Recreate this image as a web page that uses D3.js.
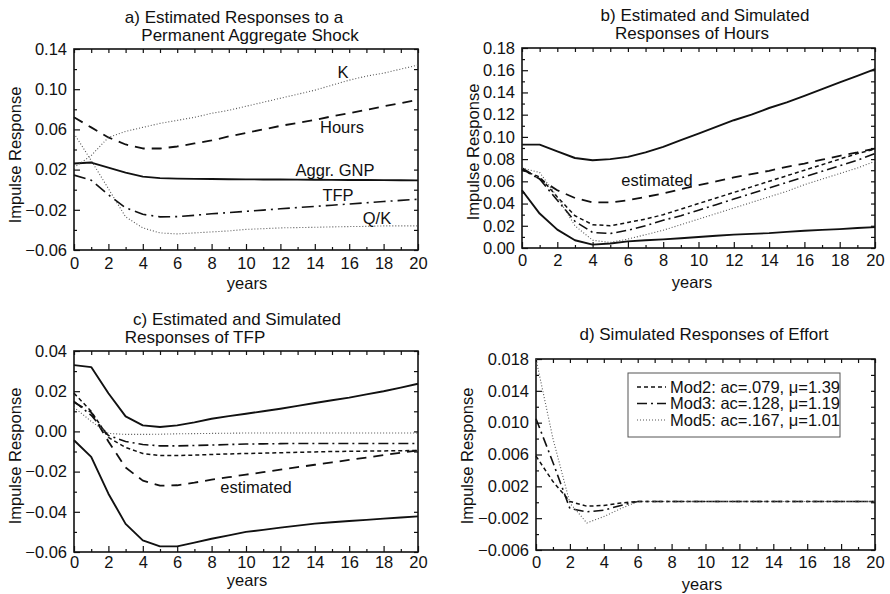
<!DOCTYPE html>
<html>
<head>
<meta charset="utf-8">
<script src="https://cdn.jsdelivr.net/npm/d3@7"></script>
<style>
  body { margin: 0; background: #fff; }
  text { font-family: "Liberation Sans", Arial, Helvetica, sans-serif; fill: #111; }
</style>
</head>
<body>
<svg id="chart" width="890" height="594"></svg>
<script>
// Horizon in years
const years = [0,1,2,3,4,5,6,7,8,9,10,11,12,13,14,15,16,17,18,19,20];

// a) estimated responses to a permanent aggregate shock
const gnpEst   = [0.026,0.027,0.022,0.017,0.013,0.0115,0.011,0.0108,0.0106,0.0104,0.0103,0.0102,0.0101,0.0100,0.0099,0.0098,0.0097,0.0096,0.0095,0.0094,0.0093];
const hoursEst = [0.072,0.062,0.052,0.045,0.041,0.041,0.043,0.046,0.049,0.053,0.0565,0.060,0.0635,0.0665,0.0695,0.073,0.076,0.0795,0.083,0.086,0.0895];
const kEst     = [0.022,0.034,0.052,0.058,0.062,0.066,0.069,0.072,0.076,0.079,0.083,0.087,0.091,0.095,0.099,0.104,0.109,0.113,0.116,0.120,0.124];
const qkEst    = [0.056,0.029,0.001,-0.027,-0.038,-0.043,-0.044,-0.043,-0.042,-0.041,-0.0395,-0.0388,-0.038,-0.0377,-0.0374,-0.037,-0.0367,-0.0365,-0.036,-0.036,-0.036];
const tfpEst   = [0.0145,0.0095,-0.005,-0.018,-0.0245,-0.027,-0.0268,-0.0255,-0.024,-0.0228,-0.0215,-0.0203,-0.019,-0.0178,-0.0166,-0.0154,-0.0142,-0.013,-0.0118,-0.0106,-0.0095];

// b) hours: confidence band and simulated models
const hoursUpper = [0.093,0.093,0.087,0.081,0.079,0.080,0.082,0.086,0.091,0.097,0.103,0.109,0.115,0.120,0.126,0.131,0.137,0.143,0.149,0.155,0.161];
const hoursLower = [0.052,0.031,0.0165,0.007,0.003,0.004,0.006,0.007,0.0078,0.0088,0.0099,0.011,0.012,0.0127,0.0134,0.0145,0.0155,0.0163,0.017,0.018,0.0188];
const hoursMod2  = [0.070,0.064,0.046,0.029,0.021,0.020,0.023,0.026,0.030,0.035,0.040,0.045,0.050,0.055,0.060,0.065,0.070,0.075,0.080,0.085,0.089];
const hoursMod3  = [0.071,0.062,0.043,0.024,0.014,0.013,0.016,0.020,0.025,0.029,0.034,0.039,0.044,0.049,0.054,0.059,0.064,0.069,0.074,0.079,0.085];
const hoursMod5  = [0.072,0.068,0.046,0.020,0.007,0.005,0.008,0.012,0.016,0.021,0.026,0.031,0.036,0.041,0.046,0.051,0.057,0.062,0.067,0.072,0.078];

// c) TFP: confidence band and simulated models
const tfpUpper = [0.033,0.032,0.019,0.0075,0.003,0.0022,0.003,0.0045,0.0063,0.0076,0.0088,0.010,0.0113,0.0127,0.0141,0.0155,0.0168,0.0184,0.020,0.0218,0.0237];
const tfpLower = [-0.0044,-0.0127,-0.031,-0.046,-0.0542,-0.0572,-0.0572,-0.0553,-0.0534,-0.0517,-0.050,-0.049,-0.0479,-0.0469,-0.0459,-0.0452,-0.0446,-0.044,-0.0434,-0.0428,-0.0423];
const tfpMod2  = [0.019,0.010,-0.003,-0.008,-0.011,-0.012,-0.012,-0.0118,-0.0115,-0.0112,-0.011,-0.0108,-0.0106,-0.0104,-0.0102,-0.0100,-0.0099,-0.0098,-0.0097,-0.0096,-0.0095];
const tfpMod3  = [0.015,0.008,-0.002,-0.005,-0.0065,-0.0072,-0.0072,-0.007,-0.0068,-0.0065,-0.0063,-0.0062,-0.0061,-0.006,-0.006,-0.006,-0.006,-0.006,-0.006,-0.006,-0.006];
const tfpMod5  = [0.012,0.005,-0.001,-0.0015,-0.0015,-0.0014,-0.0012,-0.0011,-0.001,-0.0009,-0.0008,-0.0008,-0.0008,-0.0008,-0.0008,-0.0008,-0.0008,-0.0008,-0.0008,-0.0008,-0.0008];

// d) effort: simulated models
const effortMod2 = [0.0058,0.0026,0.0001,-0.0005,-0.0004,-0.0001,0.0001,0.0001,0.0001,0.0001,0.0001,0.0001,0.0001,0.0001,0.0001,0.0001,0.0001,0.0001,0.0001,0.0001,0.0001];
const effortMod3 = [0.0105,0.0050,-0.0008,-0.0012,-0.0010,-0.0004,0.0001,0.0001,0.0001,0.0001,0.0001,0.0001,0.0001,0.0001,0.0001,0.0001,0.0001,0.0001,0.0001,0.0001,0.0001];
const effortMod5 = [0.0180,0.0080,-0.0001,-0.0026,-0.0018,-0.0008,0.0001,0.0001,0.0001,0.0001,0.0001,0.0001,0.0001,0.0001,0.0001,0.0001,0.0001,0.0001,0.0001,0.0001,0.0001];

const legendLabels = ["Mod2: ac=.079, \u03bc=1.39", "Mod3: ac=.128, \u03bc=1.19", "Mod5: ac=.167, \u03bc=1.01"];

const xMajor = [0,2,4,6,8,10,12,14,16,18,20];
const xMinor = [1,3,5,7,9,11,13,15,17,19];

// line styles
const styles = {
  solid:  { w: 1.9, dash: null,        color: "#111" },
  est:    { w: 1.8, dash: "10,7",      color: "#111" },
  mod2:   { w: 1.5, dash: "4,3",       color: "#111" },
  mod3:   { w: 1.6, dash: "10,4,2,4",  color: "#111" },
  mod5:   { w: 1.1, dash: "1,2",       color: "#555" }
};

const svg = d3.select("#chart");

function drawPanel(p) {
  const g = svg.append("g");
  const x = d3.scaleLinear().domain([0, 20]).range([p.left, p.right]);
  const y = d3.scaleLinear().domain(p.domain).range([p.bottom, p.top]);
  const fmt = d3.format(p.fmt);

  const tickStyle = sel => {
    sel.select(".domain").remove();
    sel.selectAll(".tick line").attr("stroke", "#111").attr("stroke-width", 1.2);
    sel.selectAll("text").style("font-size", "16.5px").attr("fill", "#111");
  };

  // labelled left and bottom axes with inward ticks
  g.append("g").attr("transform", `translate(${p.left},0)`)
    .call(d3.axisLeft(y).tickValues(p.yMajor).tickSize(-6).tickPadding(7).tickFormat(fmt))
    .call(tickStyle);
  g.append("g").attr("transform", `translate(0,${p.bottom})`)
    .call(d3.axisBottom(x).tickValues(xMajor).tickSize(-6).tickPadding(p.xPad).tickFormat(d3.format("d")))
    .call(tickStyle);
  // minor ticks
  g.append("g").attr("transform", `translate(${p.left},0)`)
    .call(d3.axisLeft(y).tickValues(p.yMinor).tickSize(-3).tickFormat(""))
    .call(tickStyle);
  g.append("g").attr("transform", `translate(0,${p.bottom})`)
    .call(d3.axisBottom(x).tickValues(xMinor).tickSize(-3).tickFormat(""))
    .call(tickStyle);
  // mirrored ticks on top and right
  g.append("g").attr("transform", `translate(0,${p.top})`)
    .call(d3.axisTop(x).tickValues(xMajor.concat(xMinor)).tickSize(-4).tickFormat(""))
    .call(tickStyle);
  g.append("g").attr("transform", `translate(${p.right},0)`)
    .call(d3.axisRight(y).tickValues(p.yMajor.concat(p.yMinor)).tickSize(-4).tickFormat(""))
    .call(tickStyle);

  // frame
  g.append("rect")
    .attr("x", p.left).attr("y", p.top)
    .attr("width", p.right - p.left).attr("height", p.bottom - p.top)
    .attr("fill", "none").attr("stroke", "#111").attr("stroke-width", 1.6);

  // series
  const line = d3.line().x((d, i) => x(years[i])).y(d => y(d));
  p.series.forEach(s => {
    const st = styles[s.style];
    g.append("path")
      .attr("d", line(s.values))
      .attr("fill", "none")
      .attr("stroke", st.color)
      .attr("stroke-width", st.w)
      .attr("stroke-dasharray", s.dash || st.dash)
      .attr("stroke-linejoin", "round");
  });

  // titles
  p.title.forEach(t => {
    g.append("text").attr("x", t.x).attr("y", t.y)
      .attr("text-anchor", "middle").style("font-size", "17px").text(t.text);
  });

  // axis titles
  g.append("text")
    .attr("transform", `translate(${p.yLabel.x},${p.yLabel.y}) rotate(-90)`)
    .attr("text-anchor", "middle").attr("dy", "0.35em")
    .style("font-size", "16.5px").text("Impulse Response");
  g.append("text")
    .attr("x", p.xLabel.x).attr("y", p.xLabel.y)
    .attr("text-anchor", "middle").style("font-size", "16.5px").text("years");

  // inline labels
  (p.labels || []).forEach(l => {
    g.append("text").attr("x", l.x).attr("y", l.y)
      .attr("text-anchor", "middle").style("font-size", "16.5px").text(l.text);
  });

  return { g, x, y };
}

// Panel a
drawPanel({
  left: 74, right: 418, top: 49, bottom: 250,
  domain: [-0.06, 0.14], fmt: ".2f",
  yMajor: [-0.06,-0.02,0.02,0.06,0.10,0.14],
  yMinor: [-0.04,0.00,0.04,0.08,0.12],
  xPad: 7,
  series: [
    { values: gnpEst,   style: "solid" },
    { values: hoursEst, style: "est" },
    { values: kEst,     style: "mod5" },
    { values: qkEst,    style: "mod5" },
    { values: tfpEst,   style: "mod3", dash: "12,5,2,5" }
  ],
  title: [
    { text: "a) Estimated Responses to a", x: 234, y: 23 },
    { text: "Permanent Aggregate Shock", x: 250, y: 41 }
  ],
  yLabel: { x: 15, y: 155 },
  xLabel: { x: 247, y: 289 },
  labels: [
    { text: "K", x: 343, y: 78 },
    { text: "Hours", x: 342, y: 133 },
    { text: "Aggr. GNP", x: 335, y: 176 },
    { text: "TFP", x: 338, y: 201 },
    { text: "Q/K", x: 377, y: 224 }
  ]
});

// Panel b
drawPanel({
  left: 522, right: 875, top: 48, bottom: 248,
  domain: [0, 0.18], fmt: ".2f",
  yMajor: [0,0.02,0.04,0.06,0.08,0.10,0.12,0.14,0.16,0.18],
  yMinor: [0.01,0.03,0.05,0.07,0.09,0.11,0.13,0.15,0.17],
  xPad: 6,
  series: [
    { values: hoursUpper, style: "solid" },
    { values: hoursLower, style: "solid" },
    { values: hoursEst,   style: "est" },
    { values: hoursMod2,  style: "mod2" },
    { values: hoursMod3,  style: "mod3" },
    { values: hoursMod5,  style: "mod5" }
  ],
  title: [
    { text: "b) Estimated and Simulated", x: 705, y: 21 },
    { text: "Responses of Hours", x: 692, y: 39 }
  ],
  yLabel: { x: 473, y: 152 },
  xLabel: { x: 692, y: 288 },
  labels: [ { text: "estimated", x: 657, y: 186 } ]
});

// Panel c
drawPanel({
  left: 74, right: 418, top: 351, bottom: 552,
  domain: [-0.06, 0.04], fmt: ".2f",
  yMajor: [-0.06,-0.04,-0.02,0,0.02,0.04],
  yMinor: [-0.05,-0.03,-0.01,0.01,0.03],
  xPad: 4,
  series: [
    { values: tfpUpper, style: "solid" },
    { values: tfpLower, style: "solid" },
    { values: tfpEst,   style: "est" },
    { values: tfpMod2,  style: "mod2" },
    { values: tfpMod3,  style: "mod3" },
    { values: tfpMod5,  style: "mod5" }
  ],
  title: [
    { text: "c) Estimated and Simulated", x: 237, y: 325 },
    { text: "Responses of TFP", x: 195, y: 343 }
  ],
  yLabel: { x: 15, y: 456 },
  xLabel: { x: 247, y: 586 },
  labels: [ { text: "estimated", x: 256, y: 493 } ]
});

// Panel d
const pd = drawPanel({
  left: 536, right: 875, top: 359, bottom: 550,
  domain: [-0.006, 0.018], fmt: ".3f",
  yMajor: [-0.006,-0.002,0.002,0.006,0.010,0.014,0.018],
  yMinor: [-0.004,0,0.004,0.008,0.012,0.016],
  xPad: 6,
  series: [
    { values: effortMod2, style: "mod2" },
    { values: effortMod3, style: "mod3" },
    { values: effortMod5, style: "mod5" }
  ],
  title: [ { text: "d) Simulated Responses of Effort", x: 704, y: 340 } ],
  yLabel: { x: 467, y: 456 },
  xLabel: { x: 702, y: 590 }
});

// Legend for the simulated models
const legend = pd.g.append("g");
legend.append("rect")
  .attr("x", 628).attr("y", 373).attr("width", 212).attr("height", 64)
  .attr("fill", "#fff").attr("stroke", "#555").attr("stroke-width", 1);
["mod2", "mod3", "mod5"].forEach((k, i) => {
  const st = styles[k];
  const yy = 387 + i * 16.5;
  legend.append("line")
    .attr("x1", 637).attr("x2", 666).attr("y1", yy).attr("y2", yy)
    .attr("stroke", st.color).attr("stroke-width", st.w).attr("stroke-dasharray", st.dash);
  legend.append("text")
    .attr("x", 670).attr("y", yy).attr("dy", "0.35em")
    .style("font-size", "16.5px").text(legendLabels[i]);
});
</script>
</body>
</html>
